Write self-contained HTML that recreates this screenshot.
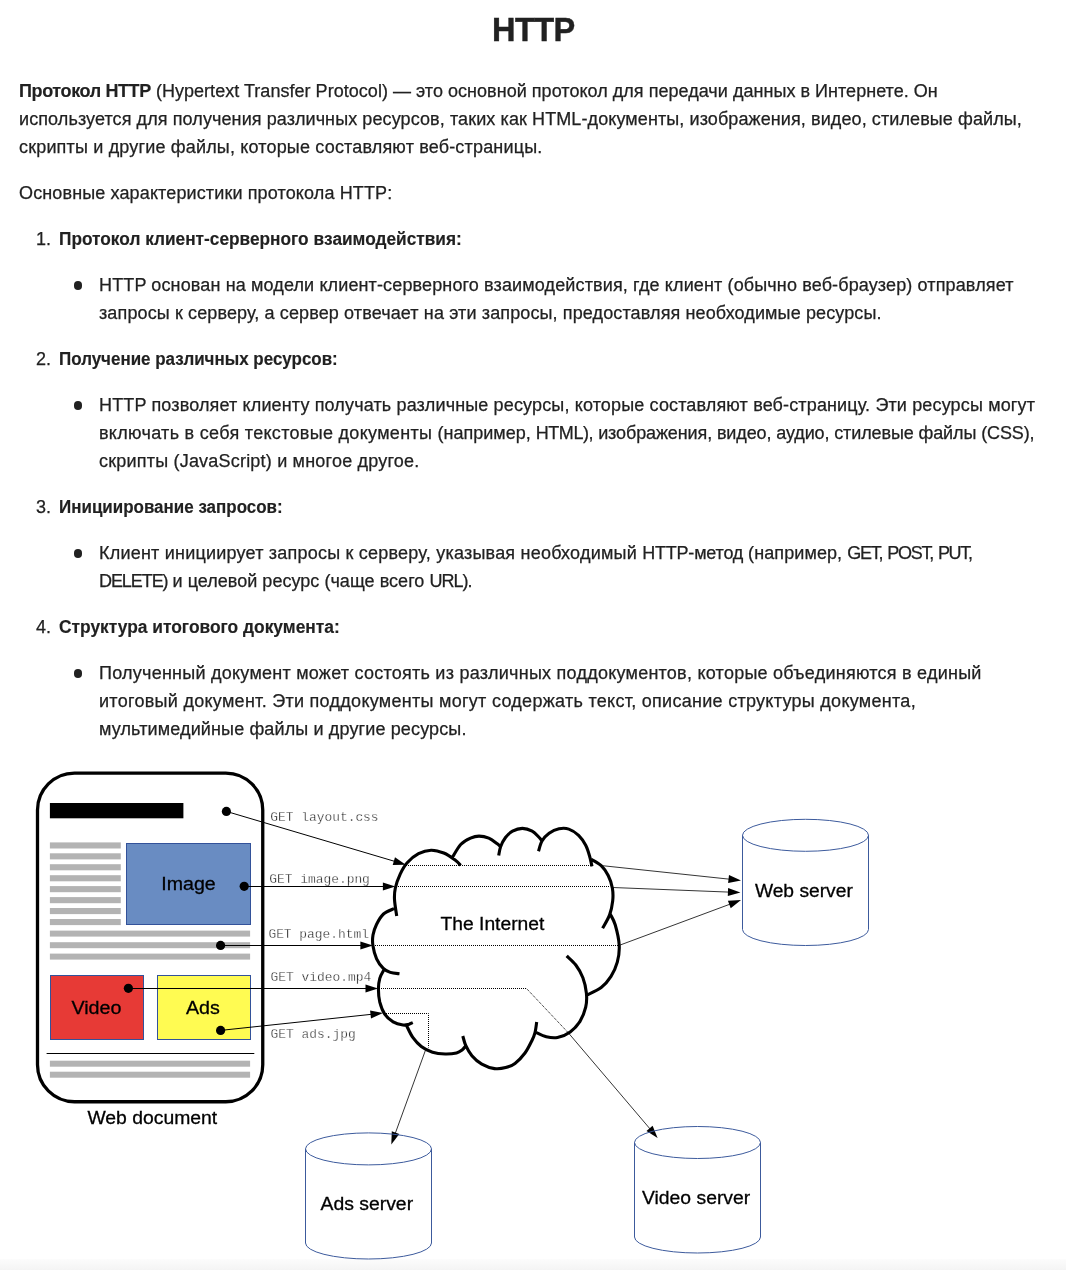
<!DOCTYPE html>
<html lang="ru">
<head>
<meta charset="utf-8">
<title>HTTP</title>
<style>
html,body{margin:0;padding:0;background:#fff;}
body{width:1066px;height:1270px;overflow:hidden;position:relative;font-family:"Liberation Sans",sans-serif;color:#212121;font-size:18px;line-height:28px;}
h1{will-change:transform;position:absolute;left:0;top:0;width:1066px;margin:0;text-align:center;font-size:32.6px;line-height:40px;font-weight:bold;top:9.7px;letter-spacing:-0.6px;padding-left:0.6px;box-sizing:border-box;-webkit-text-stroke:0.4px #212121;}
.content{-webkit-text-stroke:0.25px #212121;will-change:transform;position:absolute;left:19px;top:77px;width:1040px;}
p{margin:0 0 18px 0;}
ol{margin:0;padding:0 0 0 40px;list-style:none;counter-reset:n;}
ol>li{margin:0;padding:0;position:relative;counter-increment:n;}
ol>li::before{content:counter(n) ".";position:absolute;left:-23px;top:0;font-weight:normal;}
ul{margin:18px 0 18px 0;padding:0 0 0 40px;list-style:none;}
ul>li{position:relative;}
ul>li::before{content:"";position:absolute;left:-25.2px;top:10.3px;width:8.5px;height:8.5px;border-radius:50%;background:#212121;}
.l{display:block;white-space:nowrap;}
.content b{-webkit-text-stroke:0.15px #212121;}
#fig{will-change:transform;position:absolute;left:0;top:0;}
.fade{position:absolute;left:0;top:1259px;width:1066px;height:11px;background:linear-gradient(#fcfcfc,#f4f4f4);}
/*LS*/
.k1 b{letter-spacing:-0.38px;}
.k1{letter-spacing:0.033px;}
.k2{letter-spacing:0.097px;}
.k3{letter-spacing:0.170px;}
.k4{letter-spacing:0.128px;}
.k5 b{display:inline-block;transform-origin:0 50%;transform:scaleX(0.9593);}
.k6{letter-spacing:0.131px;}
.k7{letter-spacing:0.122px;}
.k8 b{display:inline-block;transform-origin:0 50%;transform:scaleX(0.9422);}
.k9{letter-spacing:0.144px;}
.k10a{letter-spacing:0.306px;}
.k10b{letter-spacing:-0.000px;}
.k10c{letter-spacing:-0.417px;word-spacing:0.417px;}
.k10d{letter-spacing:-0.115px;}
.k11{letter-spacing:0.203px;}
.k12 b{display:inline-block;transform-origin:0 50%;transform:scaleX(0.9428);}
.k13a{letter-spacing:0.216px;}
.k13b{letter-spacing:-0.200px;word-spacing:0.200px;}
.k13c{letter-spacing:0.091px;}
.k13d{letter-spacing:-1.269px;word-spacing:1.269px;}
.k14a{letter-spacing:-1.071px;word-spacing:1.071px;}
.k14b{letter-spacing:0.029px;}
.k14c{letter-spacing:0.042px;}
.k14d{letter-spacing:-1.000px;word-spacing:1.000px;}
.k15 b{display:inline-block;transform-origin:0 50%;transform:scaleX(0.9654);}
.k16{letter-spacing:0.245px;}
.k17{letter-spacing:0.284px;}
.k18{letter-spacing:0.132px;}
/*ENDLS*/
</style>
</head>
<body>
<h1>HTTP</h1>
<div class="content">
<p><span class="l k1"><b>Протокол HTTP</b> (Hypertext Transfer Protocol) — это основной протокол для передачи данных в Интернете. Он</span>
<span class="l k2">используется для получения различных ресурсов, таких как HTML-документы, изображения, видео, стилевые файлы,</span>
<span class="l k3">скрипты и другие файлы, которые составляют веб-страницы.</span></p>
<p><span class="l k4">Основные характеристики протокола HTTP:</span></p>
<ol>
<li><span class="l k5"><b>Протокол клиент-серверного взаимодействия:</b></span>
<ul><li><span class="l k6">HTTP основан на модели клиент-серверного взаимодействия, где клиент (обычно веб-браузер) отправляет</span>
<span class="l k7">запросы к серверу, а сервер отвечает на эти запросы, предоставляя необходимые ресурсы.</span></li></ul></li>
<li><span class="l k8"><b>Получение различных ресурсов:</b></span>
<ul><li><span class="l k9">HTTP позволяет клиенту получать различные ресурсы, которые составляют веб-страницу. Эти ресурсы могут</span>
<span class="l k10"><span class="k10a">включать в себя текстовые документы </span><span class="k10b">(например, </span><span class="k10c">HTML), </span><span class="k10d">изображения, видео, аудио, стилевые файлы (CSS),</span></span>
<span class="l k11">скрипты (JavaScript) и многое другое.</span></li></ul></li>
<li><span class="l k12"><b>Инициирование запросов:</b></span>
<ul><li><span class="l k13"><span class="k13a">Клиент инициирует запросы к серверу, указывая необходимый </span><span class="k13b">HTTP-метод </span><span class="k13c">(например, </span><span class="k13d">GET, POST, PUT,</span></span>
<span class="l k14"><span class="k14a">DELETE) </span><span class="k14b">и целевой ресурс </span><span class="k14c">(чаще всего </span><span class="k14d">URL).</span></span></li></ul></li>
<li><span class="l k15"><b>Структура итогового документа:</b></span>
<ul><li><span class="l k16">Полученный документ может состоять из различных поддокументов, которые объединяются в единый</span>
<span class="l k17">итоговый документ. Эти поддокументы могут содержать текст, описание структуры документа,</span>
<span class="l k18">мультимедийные файлы и другие ресурсы.</span></li></ul></li>
</ol>
</div>
<div class="fade"></div>
<!--FIG-->
<svg id="fig" width="1066" height="1270" viewBox="0 0 1066 1270">
<style>.gr{fill:#b3b3b3}.bx{stroke:#33529a;stroke-width:1}.ln{stroke:#000;stroke-width:1}.ln2{stroke:#000;stroke-width:0.8}.ah{fill:#000}.dt{fill:none;stroke:#000;stroke-width:1;stroke-dasharray:1 1}.cy{fill:none;stroke:#3c5a9c;stroke-width:1}.lb{font-family:"Liberation Sans",sans-serif;font-size:18.9px;fill:#000;stroke:#000;stroke-width:0.3px}.mo{font-family:"Liberation Mono",monospace;font-size:12.9px;fill:#1a1a1a;stroke:#fff;stroke-width:0.3px;paint-order:fill stroke}</style>
<rect x="37.5" y="773.05" width="225.25" height="328.7" rx="37" ry="37" fill="#fff" stroke="#000" stroke-width="3.3"/>
<rect x="49.9" y="803" width="133.5" height="15.3" fill="#000"/>
<rect class="gr" x="49.9" y="842.4" width="70.9" height="6.1"/>
<rect class="gr" x="49.9" y="853.3" width="70.9" height="6.1"/>
<rect class="gr" x="49.9" y="864.2" width="70.9" height="6.1"/>
<rect class="gr" x="49.9" y="875.2" width="70.9" height="6.1"/>
<rect class="gr" x="49.9" y="886.1" width="70.9" height="6.1"/>
<rect class="gr" x="49.9" y="897.1" width="70.9" height="6.1"/>
<rect class="gr" x="49.9" y="908.0" width="70.9" height="6.1"/>
<rect class="gr" x="49.9" y="919.0" width="70.9" height="6.1"/>
<rect class="gr" x="49.9" y="930.6" width="200.2" height="6.0"/>
<rect class="gr" x="49.9" y="942.2" width="200.2" height="6.0"/>
<rect class="gr" x="49.9" y="953.6" width="200.2" height="6.0"/>
<rect class="gr" x="49.9" y="1060.7" width="200.2" height="6.0"/>
<rect class="gr" x="49.9" y="1071.7" width="200.2" height="6.0"/>
<rect class="bx" x="126.5" y="843.5" width="124" height="81" fill="#698cc2"/>
<rect class="bx" x="50.5" y="975.5" width="93" height="64" fill="#e73a36"/>
<rect class="bx" x="157.5" y="975.5" width="93" height="64" fill="#fffb52"/>
<line class="ln" x1="46.6" y1="1053.5" x2="254.3" y2="1053.5"/>
<text class="lb" x="161.30" y="889.9" textLength="54.40" lengthAdjust="spacingAndGlyphs">Image</text>
<text class="lb" x="71.40" y="1014.0" textLength="50.10" lengthAdjust="spacingAndGlyphs">Video</text>
<text class="lb" x="185.90" y="1014.0" textLength="33.90" lengthAdjust="spacingAndGlyphs">Ads</text>
<text class="lb" x="87.40" y="1123.6" textLength="129.80" lengthAdjust="spacingAndGlyphs">Web document</text>
<text class="lb" x="440.50" y="929.7" textLength="103.90" lengthAdjust="spacingAndGlyphs">The Internet</text>
<text class="lb" x="754.90" y="896.7" textLength="97.90" lengthAdjust="spacingAndGlyphs">Web server</text>
<text class="lb" x="320.50" y="1210.1" textLength="92.60" lengthAdjust="spacingAndGlyphs">Ads server</text>
<text class="lb" x="642.00" y="1204.1" textLength="108.20" lengthAdjust="spacingAndGlyphs">Video server</text>
<text class="mo" x="270.3" y="821.0" text-anchor="start">GET layout.css</text>
<text class="mo" x="269.3" y="883.2" text-anchor="start">GET image.png</text>
<text class="mo" x="268.4" y="937.6" text-anchor="start">GET page.html</text>
<text class="mo" x="270.6" y="981.3" text-anchor="start">GET video.mp4</text>
<text class="mo" x="270.6" y="1037.6" text-anchor="start">GET ads.jpg</text>
<circle cx="226.4" cy="811.4" r="4.6" fill="#000"/>
<circle cx="244.2" cy="886.3" r="4.6" fill="#000"/>
<circle cx="220.6" cy="945.4" r="4.6" fill="#000"/>
<circle cx="128.4" cy="988.3" r="4.6" fill="#000"/>
<circle cx="220.6" cy="1030.4" r="4.6" fill="#000"/>
<line class="ln" x1="226.4" y1="811.4" x2="394.8" y2="861.4"/><polygon class="ah" points="405.8,864.7 392.7,865.0 395.0,857.3"/>
<line class="ln" x1="244.2" y1="886.5" x2="383.9" y2="886.5"/><polygon class="ah" points="395.4,886.5 382.9,890.5 382.9,882.5"/>
<line class="ln" x1="220.6" y1="945.5" x2="361.4" y2="945.5"/><polygon class="ah" points="372.9,945.5 360.4,949.5 360.4,941.5"/>
<line class="ln" x1="128.4" y1="988.5" x2="366.5" y2="988.5"/><polygon class="ah" points="378.0,988.5 365.5,992.5 365.5,984.5"/>
<line class="ln" x1="220.6" y1="1030.4" x2="371.6" y2="1014.3"/><polygon class="ah" points="383.0,1013.1 371.0,1018.4 370.1,1010.4"/>
<path class="dt" d="M406 865.5H591.5"/>
<path class="dt" d="M396 886.5H610"/>
<path class="dt" d="M373 945.5H618.5"/>
<path class="dt" d="M379 988.5H526.5L568.3 1032.8"/>
<path class="dt" d="M386 1013.5H428.5V1047.5"/>
<path d="M396.7 916.0C396.3 913.2 394.7 904.0 394.5 899.4C394.3 894.8 394.4 892.4 395.3 888.2C396.2 884.0 398.2 878.3 400.2 874.1C402.2 869.9 404.1 866.2 407.2 862.8C410.2 859.4 414.5 855.8 418.5 853.7C422.5 851.6 426.9 850.3 431.1 850.2C435.3 850.1 439.8 851.4 443.8 853.0C447.8 854.6 452.3 857.9 455.1 860.0C457.9 862.1 459.8 864.5 460.7 865.4 M452.5 857.2C453.9 855.1 457.7 847.7 460.7 844.5C463.7 841.3 467.4 839.6 470.5 838.2C473.6 836.8 475.9 836.1 479.0 836.1C482.1 836.1 485.8 836.9 488.8 838.2C491.9 839.5 495.4 842.4 497.3 843.8C499.2 845.2 499.9 846.2 500.4 846.7 M498.7 855.5C499.0 854.0 499.5 849.7 500.6 846.7C501.7 843.7 503.5 840.1 505.5 837.5C507.5 834.9 509.7 832.7 512.5 831.2C515.3 829.7 519.1 828.4 522.4 828.4C525.7 828.4 529.4 829.7 532.2 831.2C535.0 832.7 537.6 835.9 539.2 837.5C540.8 839.1 541.5 840.4 542.0 841.0 M538.5 851.3C539.1 849.6 540.2 844.0 542.0 841.0C543.8 838.0 546.3 835.3 549.1 833.3C551.9 831.3 555.7 829.5 559.0 828.8C562.3 828.1 565.5 828.0 568.8 829.1C572.1 830.2 575.8 832.7 578.6 835.4C581.4 838.1 583.8 841.7 585.7 845.3C587.6 848.9 588.9 853.7 589.9 857.2C590.9 860.7 591.6 864.9 592.0 866.4 M591.3 859.3C592.9 860.4 598.4 863.0 601.2 865.7C604.0 868.4 606.3 871.8 608.2 875.5C610.1 879.2 611.6 884.0 612.4 888.2C613.1 892.4 613.2 896.3 612.7 900.8C612.2 905.2 611.3 910.3 609.6 914.9C607.9 919.5 603.8 926.1 602.6 928.3 M610.3 914.2C611.1 916.0 613.7 919.6 615.2 924.8C616.7 930.0 618.9 939.1 619.2 945.3C619.6 951.5 618.7 957.0 617.3 962.2C615.9 967.4 613.7 972.1 611.0 976.3C608.3 980.5 605.2 984.4 601.2 987.5C597.2 990.6 589.5 993.7 587.1 994.9 M566.7 955.9C568.2 957.4 573.1 961.4 575.8 965.0C578.5 968.6 581.1 973.0 582.9 977.7C584.7 982.4 585.9 988.3 586.4 993.2C586.9 998.1 586.8 1002.5 585.7 1007.2C584.6 1011.9 582.6 1017.2 580.0 1021.3C577.4 1025.4 574.0 1029.2 570.2 1031.9C566.5 1034.6 561.5 1036.7 557.5 1037.5C553.5 1038.3 549.8 1037.6 546.3 1036.8C542.8 1036.0 538.0 1033.3 536.4 1032.6 M536.7 1022.0C536.4 1023.8 535.8 1029.6 535.0 1032.6C534.2 1035.6 533.9 1036.6 532.2 1040.0C530.5 1043.4 527.9 1049.1 525.0 1053.0C522.1 1056.9 518.2 1061.0 515.0 1063.4C511.8 1065.8 509.1 1066.7 505.7 1067.6C502.3 1068.5 498.5 1069.2 494.5 1068.6C490.5 1068.0 485.6 1066.2 481.8 1064.1C478.0 1061.9 474.6 1058.9 471.9 1055.7C469.2 1052.5 467.1 1048.4 465.6 1045.1C464.1 1041.8 463.3 1037.5 462.8 1036.0 M465.6 1046.1C465.0 1046.8 463.6 1048.9 462.1 1050.0C460.6 1051.1 459.3 1052.2 456.5 1052.9C453.7 1053.6 449.2 1054.1 445.2 1054.0C441.2 1053.9 436.5 1053.5 432.5 1052.2C428.5 1051.0 424.6 1049.0 421.3 1046.5C418.0 1044.0 415.3 1040.9 412.8 1037.4C410.3 1033.9 407.6 1027.4 406.5 1025.4 M412.8 1022.6C412.1 1022.9 410.2 1024.0 408.6 1024.4C407.0 1024.8 405.6 1025.4 403.0 1025.0C400.4 1024.6 396.2 1023.7 393.1 1021.9C390.1 1020.1 386.9 1017.5 384.7 1014.2C382.5 1010.9 380.9 1006.4 379.8 1002.2C378.8 998.0 378.4 992.8 378.4 988.8C378.4 984.8 378.9 981.5 379.8 978.3C380.7 975.1 383.3 971.2 384.0 969.8 M394.0 908.6C392.2 909.5 386.4 911.4 383.5 914.0C380.6 916.6 378.2 921.0 376.5 924.5C374.8 928.0 373.6 931.5 373.0 935.0C372.4 938.5 372.3 941.6 372.9 945.6C373.5 949.6 374.9 955.0 376.6 958.8C378.3 962.6 381.0 966.1 383.3 968.4C385.6 970.7 387.6 971.5 390.3 972.4C393.0 973.3 398.0 973.6 399.5 973.8" fill="none" stroke="#000" stroke-width="3.1" stroke-linecap="butt" stroke-linejoin="round"/>
<line class="ln2" x1="602.6" y1="865.7" x2="729.6" y2="879.2"/><polygon class="ah" points="741.0,880.4 728.1,883.1 729.0,875.1"/>
<line class="ln2" x1="612.8" y1="887.5" x2="728.9" y2="892.1"/><polygon class="ah" points="740.4,892.6 727.8,896.1 728.1,888.1"/>
<line class="ln2" x1="620.2" y1="945.0" x2="730.2" y2="904.1"/><polygon class="ah" points="741.0,900.1 730.7,908.2 727.9,900.7"/>
<line class="ln2" x1="425.3" y1="1050.7" x2="395.2" y2="1133.6"/><polygon class="ah" points="391.3,1144.4 391.8,1131.3 399.3,1134.0"/>
<line class="ln2" x1="568.3" y1="1032.8" x2="650.2" y2="1129.1"/><polygon class="ah" points="657.6,1137.9 646.5,1131.0 652.6,1125.8"/>
<ellipse class="cy" cx="805.5" cy="835.3" rx="63.0" ry="16.0"/><path class="cy" d="M742.5 835.3 V929.5 A63.0 16.0 0 0 0 868.5 929.5 V835.3"/>
<ellipse class="cy" cx="368.5" cy="1148.9" rx="63.0" ry="16.0"/><path class="cy" d="M305.5 1148.9 V1243.0 A63.0 16.0 0 0 0 431.5 1243.0 V1148.9"/>
<ellipse class="cy" cx="697.5" cy="1142.5" rx="63.0" ry="16.0"/><path class="cy" d="M634.5 1142.5 V1237.0 A63.0 16.0 0 0 0 760.5 1237.0 V1142.5"/>
</svg>
<!--/FIG-->
</body>
</html>
